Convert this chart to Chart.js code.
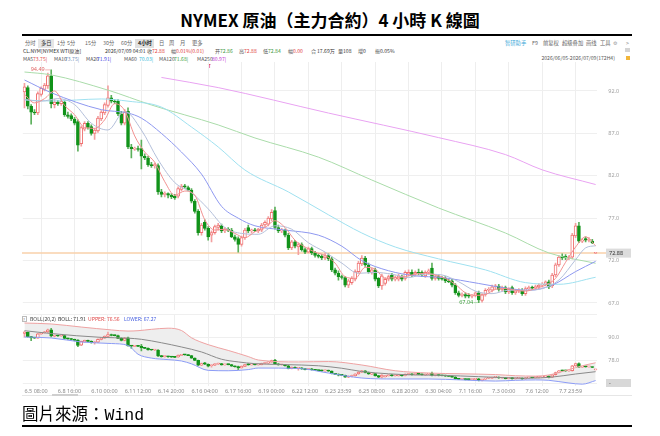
<!DOCTYPE html>
<html>
<head>
<meta charset="utf-8">
<script src="https://cdn.jsdelivr.net/npm/chart.js@4.4.1/dist/chart.umd.min.js"></script>
<style>
body{margin:0;width:660px;height:436px;position:relative;overflow:hidden;background:#fff;font-family:"Noto Sans CJK SC","Noto Sans",sans-serif;}
.s{position:absolute;white-space:nowrap;height:12px;line-height:12px;font-size:10.2px;color:#555;transform-origin:0 50%;transform:translateY(-50%) scale(0.5);}
.tb{font-size:10.6px;color:#666;}
.r{transform-origin:100% 50%;}
.box{position:absolute;}
canvas{display:block;}
</style>
</head>
<body>
<div class="box" style="left:0;top:8px;width:660px;text-align:center;font:bold 17px 'Noto Sans CJK TC',sans-serif;color:#000;line-height:24px">NYMEX 原油（主力合約）4 小時 K 線圖</div>
<div class="box" style="left:22px;top:34px;width:610px;height:2px;background:#000"></div>

<div class="box" style="left:38px;top:38.5px;width:16px;height:9px;background:#e6e6e6"></div>
<div class="box" style="left:135px;top:38.5px;width:19px;height:9px;background:#e0e0e0"></div>
<span class="s tb" style="left:25px;top:43px">分时</span>
<span class="s tb" style="left:40.5px;top:43px;color:#333">多日</span>
<span class="s tb" style="left:57px;top:43px">1分</span>
<span class="s tb" style="left:67px;top:43px">5分</span>
<span class="s tb" style="left:85px;top:43px">15分</span>
<span class="s tb" style="left:103px;top:43px">30分</span>
<span class="s tb" style="left:121px;top:43px">60分</span>
<span class="s tb" style="left:137.5px;top:43px;color:#222;font-weight:bold">4小时</span>
<span class="s tb" style="left:159px;top:43px">日</span>
<span class="s tb" style="left:169px;top:43px">周</span>
<span class="s tb" style="left:180px;top:43px">月</span>
<span class="s tb" style="left:192px;top:43px">更多</span>
<span class="s tb" style="left:505px;top:42.5px;color:#3aa8d8">智研助手</span>
<span class="s tb" style="left:532px;top:42.5px">F9</span>
<span class="s tb" style="left:543px;top:42.5px">前复权</span>
<span class="s tb" style="left:562px;top:42.5px">超级叠加</span>
<span class="s tb" style="left:586px;top:42.5px">画线</span>
<span class="s tb" style="left:600px;top:42.5px">工具</span>
<span class="s tb" style="left:613px;top:42.5px;color:#999">⚙</span>
<span class="s tb" style="left:626px;top:42.5px;color:#999">&gt;</span>

<span class="s" style="left:23px;top:50.5px;color:#333">CL.NYM[NYMEX WTI原油]</span>
<span class="s" style="left:105px;top:50.5px;color:#333">2026/07/09 04:01</span>
<span class="s" style="left:147px;top:50.5px">收</span><span class="s" style="left:152px;top:50.5px;color:#e03c3c">72.88</span>
<span class="s" style="left:171px;top:50.5px">幅</span><span class="s" style="left:175.5px;top:50.5px;color:#e03c3c">0.01%(0.01)</span>
<span class="s" style="left:215px;top:50.5px">开</span><span class="s" style="left:220px;top:50.5px;color:#3a963a">72.86</span>
<span class="s" style="left:239px;top:50.5px">高</span><span class="s" style="left:244px;top:50.5px;color:#e03c3c">72.88</span>
<span class="s" style="left:263px;top:50.5px">低</span><span class="s" style="left:268px;top:50.5px;color:#3a963a">72.84</span>
<span class="s" style="left:288px;top:50.5px">幅</span><span class="s" style="left:293px;top:50.5px;color:#e03c3c">0.00</span>
<span class="s" style="left:311px;top:50.5px">合</span><span class="s" style="left:316.5px;top:50.5px;color:#333">17.69万</span>
<span class="s" style="left:338px;top:50.5px">量</span><span class="s" style="left:343px;top:50.5px;color:#333">108</span>
<span class="s" style="left:358px;top:50.5px">增</span><span class="s" style="left:363px;top:50.5px;color:#333">0</span>
<span class="s" style="left:375px;top:50.5px">振</span><span class="s" style="left:380px;top:50.5px;color:#333">0.05%</span>

<span class="s" style="left:23px;top:58.5px">MA5</span><span class="s" style="left:33px;top:58.5px;color:#e04848">73.75|</span>
<span class="s" style="left:54px;top:58.5px">MA10</span><span class="s" style="left:65px;top:58.5px;color:#6f8cb8">73.75|</span>
<span class="s" style="left:86px;top:58.5px">MA20</span><span class="s" style="left:97px;top:58.5px;color:#4848e0">71.91|</span>
<span class="s" style="left:124px;top:58.5px">MA60</span><span class="s" style="left:139px;top:58.5px;color:#2fb6d6">70.03|</span>
<span class="s" style="left:159px;top:58.5px">MA120</span><span class="s" style="left:174px;top:58.5px;color:#3d9f3d">71.68|</span>
<span class="s" style="left:197px;top:58.5px">MA250</span><span class="s" style="left:212px;top:58.5px;color:#c235d2">80.97|</span>
<span class="s r" style="right:45px;top:58px;color:#555">2026/06/05-2026/07/09(172H4)</span>
<div class="box" style="left:625px;top:48px;width:5px;height:4px;background:#d4d4d4"></div>
<div class="box" style="left:626px;top:56px;width:4px;height:4px;background:#f2b63a"></div>
<span class="s" style="left:207.5px;top:65.5px;font-size:9px;color:#e03030;font-weight:bold">T</span>

<div class="box" style="left:0;top:62px"><canvas id="main" width="660" height="248"></canvas></div>
<div class="box" style="left:0;top:314px"><canvas id="boll" width="660" height="86"></canvas></div>

<div class="box" style="left:22px;top:315.5px;width:5px;height:6px;border:0.5px solid #bbb;box-sizing:border-box;background:#fff"></div>
<span class="s" style="left:23.4px;top:318.5px;font-size:8px;color:#666">?</span>
<span class="s" style="left:30px;top:318.5px;color:#444">BOLL(20,2)</span>
<span class="s" style="left:58px;top:318.5px;color:#333">BOLL: 71.91</span>
<span class="s" style="left:88px;top:318.5px;color:#e04a4a">UPPER: 76.56</span>
<span class="s" style="left:124px;top:318.5px;color:#4a62e0">LOWER: 67.27</span>

<div class="box" style="left:22px;top:395px;width:610px;height:1px;background:#e6e6e6"></div>
<div class="box" style="left:52px;top:394px;width:26px;height:2px;background:#cfcfcf"></div>

<div class="box" style="left:22px;top:400px;font-size:16.5px;line-height:26px;color:#000;white-space:nowrap"><span style="font-family:'Noto Sans CJK TC'">圖片來源：</span><span style="font-family:'Liberation Mono',monospace">Wind</span></div>
<div class="box" style="left:22px;top:425px;width:610px;height:2px;background:#000"></div>

<script>
// 4H bars, 2026/06/05 - 2026/07/09
var timeLabels = ["6.5 08:00", "6.8 16:00", "6.10 00:00", "6.11 12:00", "6.14 20:00", "6.16 04:00",
    "6.17 16:00", "6.19 00:00", "6.22 12:00", "6.23 23:59", "6.25 08:00", "6.28 20:00",
    "6.30 04:00", "7.1 16:00", "7.3 00:00", "7.6 12:00", "7.7 23:59"];

var opens = [91.9,92.4,90.2,89.5,89.4,91.6,92.2,92.6,93.8,90.4,
    90.7,90.5,90.7,89.2,89.1,88.7,88.4,85.8,87.5,88.2,
    87.8,87.0,87.3,88.7,89.4,90.3,91.2,90.8,90.8,89.3,
    88.2,89.6,85.4,85.15,85.2,85.2,84.3,84.1,83.3,83.2,
    83.2,80.1,79.8,79.9,79.7,79.6,79.6,80.4,80.8,80.6,
    80.3,79.0,77.8,75.3,76.5,75.8,75.0,75.3,75.9,76.1,
    75.5,75.7,75.6,74.8,74.6,73.9,74.7,75.9,75.5,75.6,
    75.5,75.6,76.2,76.3,76.9,77.9,75.9,75.5,75.6,75.0,
    73.5,74.2,73.6,73.9,73.3,73.0,73.4,72.9,72.6,72.5,
    72.3,72.6,72.2,70.9,70.5,70.1,70.0,69.1,69.4,69.8,
    70.7,71.6,72.3,71.5,70.6,70.9,69.9,69.0,69.3,69.8,
    70.3,69.8,69.8,70.1,69.9,70.4,70.6,70.4,70.6,70.6,
    70.2,70.6,71.1,69.9,70.1,69.9,69.9,69.6,69.6,69.1,
    68.2,67.9,68.0,67.9,67.8,67.9,68.2,67.3,68.0,68.5,
    68.5,68.9,69.0,68.6,68.8,68.3,68.8,68.2,68.4,68.5,
    68.1,68.7,68.8,68.8,68.9,69.1,69.2,69.5,69.0,70.3,
    71.5,72.5,72.5,72.3,72.4,74.9,76.1,74.3,74.6,74.4,
    74.3,72.86];
var highs = [92.9,92.6,90.4,89.8,91.9,92.5,92.9,94.1,94.49,91.0,
    90.9,91.0,90.9,89.5,89.3,88.9,88.6,87.9,88.4,88.4,
    88.0,87.6,89.0,89.7,90.6,92.6,91.5,91.0,91.0,89.6,
    89.8,90.0,85.7,85.4,85.5,86.2,84.6,84.3,83.6,83.5,
    83.4,80.4,80.1,80.0,79.9,79.8,80.7,81.0,81.0,80.8,
    80.5,79.2,78.0,76.4,76.8,76.0,75.5,76.2,76.4,76.3,
    75.9,75.9,75.8,75.0,74.8,74.9,75.8,76.2,75.7,75.8,
    75.8,76.4,76.7,77.2,78.0,78.3,76.2,75.8,75.7,75.2,
    74.4,74.4,74.1,74.1,73.5,73.6,73.6,73.1,72.8,72.7,
    72.9,72.8,72.4,71.1,70.8,70.3,70.1,69.8,70.1,70.9,
    71.9,72.6,72.5,71.7,71.1,71.1,70.0,70.4,70.0,70.3,
    70.5,70.2,70.4,70.3,70.8,70.9,70.9,70.8,71.0,70.8,
    70.8,71.0,71.7,70.3,70.3,70.1,70.1,69.8,69.8,69.3,
    68.4,68.2,68.2,68.1,68.0,68.3,68.4,68.1,68.7,68.8,
    69.1,69.2,69.2,69.0,69.0,68.8,69.0,68.6,68.7,68.7,
    68.9,69.0,69.0,69.1,69.3,69.4,69.6,69.7,70.5,71.7,
    72.6,72.8,72.7,72.6,75.2,76.4,76.5,74.6,74.8,74.7,
    74.5,72.88];
var lows = [90.0,89.9,88.1,89.2,89.2,91.4,92.0,92.3,90.0,90.0,
    90.3,90.3,89.0,88.8,88.5,88.0,84.9,85.5,87.3,87.5,
    86.8,86.3,87.1,88.5,89.2,90.1,90.6,90.5,89.1,88.0,
    88.0,85.2,84.1,85.0,84.9,82.8,83.9,83.1,83.0,82.9,
    79.8,79.5,79.5,79.4,79.3,79.2,79.4,80.2,80.5,80.2,
    78.8,77.6,75.0,75.0,75.6,74.4,74.2,75.1,75.6,75.3,
    75.3,75.4,74.7,74.3,73.0,73.7,74.5,75.3,75.3,75.4,
    75.3,75.4,76.0,76.1,76.7,75.7,75.3,75.3,74.8,73.3,
    73.3,73.5,72.7,73.1,72.8,72.9,72.7,72.4,72.3,72.1,
    72.1,72.0,70.7,70.3,69.7,69.8,68.9,68.8,69.2,69.6,
    70.5,71.4,71.3,70.5,70.4,69.6,68.8,68.6,69.1,69.6,
    69.6,69.6,69.6,69.6,69.7,70.2,70.1,70.2,70.3,70.1,
    70.0,70.4,69.7,69.7,69.7,69.7,69.4,69.4,68.9,68.0,
    67.7,67.7,67.6,67.6,67.6,67.7,67.04,67.1,67.8,68.3,
    68.3,68.6,68.4,68.4,68.1,68.1,68.0,68.0,68.2,67.9,
    67.9,68.5,68.6,68.6,68.7,68.9,69.0,68.7,68.8,70.1,
    71.3,72.1,72.1,72.1,72.2,74.7,74.1,74.1,74.2,74.2,
    74.0,72.84];
var closes = [92.5,90.2,89.5,89.4,91.7,92.3,92.7,93.8,90.5,90.7,
    90.5,90.8,89.2,89.0,88.7,88.2,85.6,87.7,88.2,87.7,
    87.0,87.4,88.8,89.5,90.4,91.2,90.8,90.7,89.3,88.2,
    89.5,85.4,85.2,85.25,85.1,84.3,84.1,83.3,83.2,83.25,
    80.1,79.8,79.9,79.7,79.5,79.4,80.5,80.8,80.7,80.3,
    79.0,77.8,75.3,76.2,75.8,74.8,75.3,76.0,76.2,75.5,
    75.7,75.6,74.8,74.5,73.9,74.7,75.6,75.5,75.6,75.5,
    75.7,76.2,76.5,77.0,77.7,75.9,75.5,75.6,75.0,73.5,
    74.2,73.7,73.9,73.3,73.0,73.4,72.9,72.6,72.5,72.3,
    72.6,72.2,70.9,70.5,70.1,70.0,69.1,69.6,69.9,70.7,
    71.7,72.3,71.5,70.7,70.9,69.8,69.0,70.2,69.8,70.1,
    69.8,70.0,70.2,69.8,70.6,70.6,70.3,70.6,70.5,70.3,
    70.6,70.8,69.9,70.1,69.9,69.8,69.6,69.5,69.1,68.2,
    67.9,68.0,67.8,67.8,67.9,68.2,67.35,68.0,68.5,68.6,
    68.9,69.0,68.6,68.8,68.3,68.6,68.2,68.4,68.5,68.1,
    68.7,68.8,68.75,68.9,69.1,69.2,69.5,68.9,70.3,71.5,
    72.4,72.3,72.3,72.4,75.0,76.1,74.3,74.4,74.4,74.5,
    74.1,72.88];

// moving averages: [bar, value]
var ma5 = [[0,91.6],[3,90.6],[6,91.1],[9,92.0],[12,90.3],[15,89.2],[18,87.7],[21,87.6],[24,88.6],[27,90.5],
    [30,89.7],[33,86.7],[36,84.8],[39,83.6],[42,81.3],[45,79.7],[48,80.2],[51,79.7],[54,76.8],[57,75.6],
    [60,75.7],[63,75.2],[66,74.7],[69,75.4],[72,75.9],[75,76.7],[78,75.9],[81,74.4],[84,73.6],[87,73.0],
    [90,72.6],[93,71.7],[96,70.1],[99,69.9],[102,71.2],[105,71.0],[108,69.9],[111,70.0],[114,70.1],[117,70.4],
    [120,70.5],[123,70.3],[126,69.9],[129,69.2],[132,68.2],[135,67.9],[138,68.0],[141,68.6],[144,68.7],[147,68.5],
    [150,68.4],[153,68.7],[156,69.1],[159,69.9],[162,71.8],[165,73.6],[168,74.8],[171,73.75]];
var ma10 = [[0,91.0],[5,90.8],[10,91.1],[15,90.4],[20,88.2],[25,87.4],[30,89.6],[35,87.4],[40,83.9],[45,81.2],
    [50,80.0],[55,78.1],[60,75.9],[65,75.2],[70,75.1],[75,76.1],[80,75.7],[85,74.1],[90,73.0],[95,71.7],
    [100,70.5],[105,70.6],[110,70.4],[115,70.0],[120,70.4],[125,70.3],[130,69.5],[135,68.4],[140,68.1],[145,68.5],
    [150,68.5],[155,68.7],[160,69.7],[165,72.1],[168,73.5],[171,73.75]];
var ma20 = [[0,93.3],[8,91.8],[23,89.8],[31,89.4],[35,88.8],[41,87.0],[47,84.8],[53,82.2],[59,78.4],[64,77.0],
    [69,76.1],[78,75.6],[88,75.0],[95,73.7],[101,72.0],[109,70.8],[117,70.2],[125,70.0],[136,69.3],[145,68.7],
    [151,68.5],[158,69.1],[165,70.7],[171,71.91]];
var ma60 = [[0,90.94],[8,90.82],[23,91.06],[31,90.8],[41,90.1],[50,87.75],[58,85.4],[66,82.68],[79,80.1],[91,77.4],
    [101,75.25],[111,73.6],[124,72.2],[138,70.9],[150,69.4],[160,69.2],[171,70.03]];
var ma120 = [[0,94.24],[8,93.9],[25,92.1],[38,90.35],[58,88.0],[69,86.46],[88,84.2],[104,81.5],[124,78.2],[144,75.25],
    [157,72.9],[171,71.68]];
var ma250 = [[41,93.6],[58,92.4],[91,89.4],[124,86.5],[144,84.5],[155,82.7],[171,80.97]];

// bollinger bands (20,2)
var bollBars  = [0,8,17,26,31,34,38,43,47,50,55,61,67,70,82,91,101,111,121,131,141,147,153,157,163,167,171];
var bollUpper = [97.3,96.8,95.2,93.7,93.1,93.3,94.0,94.6,93.4,89.6,86.0,83.0,79.8,78.0,77.0,77.2,75.4,72.4,71.2,70.8,70.4,69.8,69.6,70.2,73.0,75.0,76.56];
var bollLower = [90.0,89.5,87.4,86.6,85.6,81.0,79.0,78.2,77.5,76.0,72.6,72.4,73.0,73.8,73.6,71.2,68.6,68.1,68.1,67.6,67.0,67.4,67.6,67.4,66.0,65.4,67.27];

var priceTicks = [67, 72, 77, 82, 87, 92];
var bollTicks = [66, 78, 90, 102];
var lastPrice = 72.88;

var RED = "#f07272", GREEN = "#11931a";
var RED_WICK = "#f3a0a0", GREEN_WICK = "#5cb05c";
var TICK_FONT = {family: "Noto Sans", size: 5.5};

function pts(list) {
    return list.map(function (p) { return {x: p[0], y: p[1]}; });
}

function maLine(list, color) {
    return {
        type: 'line', data: pts(list), borderColor: color, borderWidth: 1,
        pointRadius: 0, cubicInterpolationMode: 'monotone', order: 0
    };
}

function candleSets() {
    var up = closes.map(function (c, i) { return c >= opens[i]; });
    return [{
        type: 'bar',
        data: closes.map(function (c, i) { return {x: i, y: [opens[i], c]}; }),
        backgroundColor: up.map(function (u) { return u ? "#ffffff" : GREEN; }),
        borderColor: up.map(function (u) { return u ? RED : GREEN; }),
        borderWidth: 1, borderSkipped: false, barThickness: 3, minBarLength: 1,
        grouped: false, order: 2
    }, {
        type: 'bar',
        data: highs.map(function (h, i) { return {x: i, y: [lows[i], h]}; }),
        backgroundColor: up.map(function (u) { return u ? RED_WICK : GREEN_WICK; }),
        barThickness: 1, grouped: false, order: 3
    }];
}

var gridBars = timeLabels.map(function (t, k) { return k * 10; });

function xScale(showLabels) {
    return {
        type: 'linear', min: -0.5, max: 171.5, offset: false,
        afterBuildTicks: function (s) { s.ticks = gridBars.map(function (v) { return {value: v}; }); },
        afterFit: function (s) {
            s.height = showLabels ? 14 : 0;
            s.paddingLeft = 0; s.paddingRight = 0;
        },
        ticks: {
            display: showLabels, align: 'start', maxRotation: 0, autoSkip: false, padding: 2,
            color: "#8a8a8a", font: TICK_FONT,
            callback: function (v) { return timeLabels[Math.round(v / 10)]; }
        },
        grid: {
            drawTicks: false,
            color: function (c) { return c.tick && c.tick.value === 0 ? "rgba(0,0,0,0)" : "#eeeeee"; }
        },
        border: {display: false}
    };
}

function yScale(min, max, ticks, labelFn) {
    return {
        position: 'right', min: min, max: max,
        afterBuildTicks: function (s) { s.ticks = ticks.map(function (v) { return {value: v}; }); },
        afterFit: function (s) { s.width = 62.7; s.paddingTop = 0; s.paddingBottom = 0; },
        ticks: {padding: 11, color: "#a0a0a0", font: TICK_FONT, callback: labelFn},
        grid: {drawTicks: false, color: "#efefef"},
        border: {display: false}
    };
}

var mainMarks = {
    id: 'mainMarks',
    beforeDatasetsDraw: function (chart) {
        var ctx = chart.ctx, y = chart.scales.y;
        var py = y.getPixelForValue(lastPrice);
        ctx.save();
        ctx.strokeStyle = "#f9d0aa";
        ctx.lineWidth = 1.5;
        ctx.beginPath();
        ctx.moveTo(22, py);
        ctx.lineTo(606, py);
        ctx.stroke();
        ctx.restore();
    },
    afterDatasetsDraw: function (chart) {
        var ctx = chart.ctx, x = chart.scales.x, y = chart.scales.y;
        ctx.save();
        ctx.font = '5.5px "Noto Sans"';
        ctx.textBaseline = 'middle';

        var py = y.getPixelForValue(lastPrice);
        ctx.fillStyle = "#dcdcdc";
        ctx.fillRect(606, py - 4.5, 25, 9);
        ctx.fillStyle = "#333";
        ctx.textAlign = 'left';
        ctx.fillText(lastPrice.toFixed(2), 609, py);

        var hiVal = Math.max.apply(null, highs), hiIdx = highs.indexOf(hiVal);
        var hx = x.getPixelForValue(hiIdx), hy = y.getPixelForValue(hiVal);
        ctx.strokeStyle = "#e88"; ctx.lineWidth = 0.6;
        ctx.beginPath(); ctx.moveTo(hx - 6, hy); ctx.lineTo(hx - 1, hy); ctx.stroke();
        ctx.fillStyle = "#e06666"; ctx.textAlign = 'right';
        ctx.fillText(hiVal.toFixed(2), hx - 6.5, hy);

        var loVal = Math.min.apply(null, lows), loIdx = lows.indexOf(loVal);
        var lx = x.getPixelForValue(loIdx), ly = y.getPixelForValue(loVal);
        ctx.strokeStyle = "#7c7";
        ctx.beginPath(); ctx.moveTo(lx - 5, ly); ctx.lineTo(lx - 1, ly); ctx.stroke();
        ctx.fillStyle = "#3f9f3f";
        ctx.fillText(loVal.toFixed(2), lx - 5.5, ly);
        ctx.restore();
    }
};

var bollMarks = {
    id: 'bollMarks',
    afterDraw: function (chart) {
        var ctx = chart.ctx, y = chart.scales.y;
        var py = y.getPixelForValue(66);
        ctx.save();
        ctx.fillStyle = "#d8d8d8";
        ctx.fillRect(606, py - 4, 25, 8);
        ctx.fillStyle = "#555";
        ctx.font = '5.5px "Noto Sans"';
        ctx.textBaseline = 'middle';
        ctx.fillText("-", 609, py);
        ctx.restore();
    }
};

new Chart(document.getElementById("main").getContext("2d"), {
    type: 'bar',
    data: {
        datasets: [
            maLine(ma5, "#f29090"),
            maLine(ma10, "#b3bfda"),
            maLine(ma20, "#8e98f0"),
            maLine(ma60, "#9fe1f0"),
            maLine(ma120, "#aadcaa"),
            maLine(ma250, "#e9a3f2")
        ].concat(candleSets())
    },
    options: {
        responsive: false,
        animation: false,
        layout: {padding: {left: 22.8, right: 0, top: 0, bottom: 0}},
        plugins: {legend: {display: false}, tooltip: {enabled: false}},
        scales: {
            x: xScale(false),
            y: yScale(66.17, 95.42, priceTicks, function (v) { return v.toFixed(1); })
        }
    },
    plugins: [mainMarks]
});

var bollUp = bollBars.map(function (b, k) { return [b, bollUpper[k]]; });
var bollLo = bollBars.map(function (b, k) { return [b, bollLower[k]]; });

new Chart(document.getElementById("boll").getContext("2d"), {
    type: 'bar',
    data: {
        datasets: [
            Object.assign(maLine(bollUp, "#eea2a2"), {fill: '+1', backgroundColor: "#eeeeee"}),
            maLine(bollLo, "#8c9cf6"),
            maLine(ma20, "#8a8a8a")
        ].concat(candleSets())
    },
    options: {
        responsive: false,
        animation: false,
        layout: {padding: {left: 22.8, right: 0, top: 0, bottom: 0}},
        plugins: {legend: {display: false}, tooltip: {enabled: false}, filler: {drawTime: 'beforeDatasetsDraw'}},
        scales: {
            x: xScale(true),
            y: yScale(64.44, 102, bollTicks, function (v) { return (v === 78 || v === 90) ? v.toFixed(1) : ""; })
        }
    },
    plugins: [bollMarks]
});
</script>
</body>
</html>
